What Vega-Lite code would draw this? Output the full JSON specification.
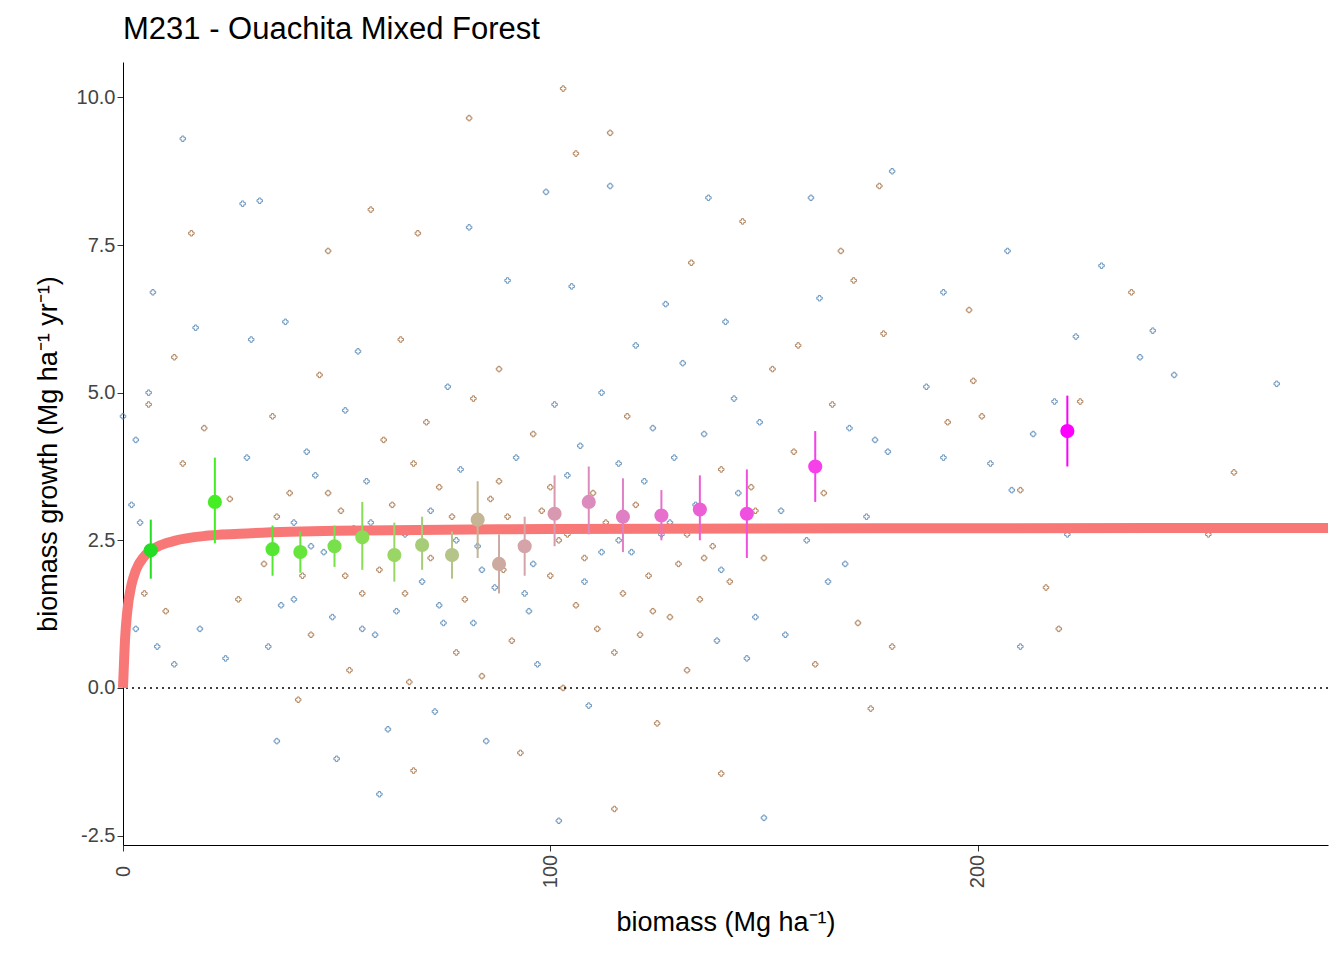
{
"$schema":"https://vega.github.io/schema/vega-lite/v6.json",
"autosize":"none","width":1205,"height":783,
"padding":{"left":123,"top":62,"right":16,"bottom":115},
"background":"white",
"title":{"text":"M231 - Ouachita Mixed Forest","anchor":"start","frame":"group","fontSize":31,"font":"Liberation Sans","fontWeight":"normal","color":"black","offset":16},
"config":{"view":{"stroke":null},"axis":{"grid":false,"domainColor":"black","tickColor":"#333","tickSize":6,"labelFont":"Liberation Sans","titleFont":"Liberation Sans","labelFontSize":20,"titleFontSize":27,"titleFontWeight":"normal","labelColor":"#444","titleColor":"black"}},
"datasets":{
"pts":[
{"x":103,"y":10.15,"g":"b"},{"x":81,"y":9.65,"g":"b"},{"x":14,"y":9.3,"g":"a"},{"x":106,"y":9.05,"g":"b"},{"x":114,"y":9.4,"g":"b"},{"x":180,"y":8.75,"g":"a"},{"x":28,"y":8.2,"g":"a"},{"x":32,"y":8.25,"g":"a"},{"x":229,"y":7.15,"g":"a"},{"x":207,"y":7.4,"g":"a"},{"x":150,"y":-2.2,"g":"a"},{"x":102,"y":-2.25,"g":"a"},{"x":115,"y":-2.05,"g":"b"},{"x":60,"y":-1.8,"g":"a"},{"x":270,"y":5.15,"g":"a"},{"x":260,"y":3.65,"g":"b"},{"x":254,"y":2.6,"g":"b"},{"x":216,"y":1.7,"g":"b"},{"x":219,"y":1.0,"g":"b"},{"x":210,"y":0.7,"g":"a"},{"x":238,"y":5.6,"g":"a"},{"x":241,"y":6.05,"g":"a"},{"x":246,"y":5.3,"g":"a"},{"x":223,"y":5.95,"g":"a"},{"x":236,"y":6.7,"g":"b"},{"x":198,"y":6.4,"g":"b"},{"x":192,"y":6.7,"g":"a"},{"x":175,"y":-0.35,"g":"b"},{"x":140,"y":-1.45,"g":"b"},{"x":36,"y":-0.9,"g":"a"},{"x":68,"y":-1.4,"g":"b"},{"x":0,"y":4.6,"g":"a"},{"x":3,"y":4.2,"g":"a"},
{"x":7,"y":6.7,"g":"a"},{"x":16,"y":7.7,"g":"b"},{"x":17,"y":6.1,"g":"a"},{"x":12,"y":5.6,"g":"b"},{"x":6,"y":5.0,"g":"a"},{"x":6,"y":4.8,"g":"b"},{"x":2,"y":3.1,"g":"a"},{"x":4,"y":2.8,"g":"a"},{"x":5,"y":1.6,"g":"b"},{"x":3,"y":1.0,"g":"a"},{"x":8,"y":0.7,"g":"a"},{"x":10,"y":1.3,"g":"b"},{"x":12,"y":0.4,"g":"a"},{"x":14,"y":3.8,"g":"b"},{"x":18,"y":1.0,"g":"a"},{"x":19,"y":4.4,"g":"b"},{"x":22,"y":2.6,"g":"a"},{"x":25,"y":3.2,"g":"b"},{"x":24,"y":0.5,"g":"a"},{"x":27,"y":1.5,"g":"b"},{"x":29,"y":3.9,"g":"a"},{"x":30,"y":5.9,"g":"a"},{"x":33,"y":2.1,"g":"b"},{"x":34,"y":0.7,"g":"a"},{"x":35,"y":4.6,"g":"b"},{"x":37,"y":1.4,"g":"a"},{"x":38,"y":6.2,"g":"a"},{"x":39,"y":3.3,"g":"b"},{"x":40,"y":2.8,"g":"a"},{"x":41,"y":-0.2,"g":"b"},{"x":42,"y":1.9,"g":"b"},{"x":43,"y":4.0,"g":"a"},{"x":44,"y":0.9,"g":"b"},{"x":45,"y":3.6,"g":"a"},{"x":46,"y":5.3,"g":"b"},{"x":47,"y":2.3,"g":"a"},{"x":48,"y":7.4,"g":"b"},{"x":49,"y":1.2,"g":"a"},{"x":50,"y":-1.2,"g":"a"},{"x":51,"y":3.0,"g":"b"},{"x":52,"y":4.7,"g":"a"},{"x":53,"y":0.3,"g":"b"},{"x":54,"y":2.7,"g":"b"},{"x":55,"y":5.7,"g":"a"},{"x":56,"y":1.6,"g":"b"},{"x":57,"y":3.5,"g":"a"},{"x":58,"y":8.1,"g":"b"},{"x":59,"y":0.9,"g":"a"},{"x":60,"y":2.0,"g":"b"},{"x":61,"y":4.2,"g":"b"},{"x":62,"y":-0.7,"g":"a"},{"x":63,"y":3.1,"g":"b"},{"x":64,"y":1.3,"g":"a"},{"x":65,"y":5.9,"g":"b"},{"x":66,"y":2.6,"g":"a"},{"x":67,"y":0.1,"g":"b"},{"x":68,"y":3.8,"g":"b"},{"x":69,"y":7.7,"g":"b"},{"x":70,"y":1.8,"g":"a"},{"x":71,"y":4.5,"g":"b"},{"x":72,"y":2.2,"g":"b"},{"x":73,"y":-0.4,"g":"a"},{"x":74,"y":3.4,"g":"b"},{"x":75,"y":1.1,"g":"a"},{"x":76,"y":5.1,"g":"a"},{"x":77,"y":2.9,"g":"b"},{"x":78,"y":0.6,"g":"b"},{"x":79,"y":3.7,"g":"a"},{"x":80,"y":1.5,"g":"b"},{"x":81,"y":7.8,"g":"a"},{"x":82,"y":4.9,"g":"b"},{"x":83,"y":2.4,"g":"a"},{"x":84,"y":0.2,"g":"b"},{"x":85,"y":-0.9,"g":"a"},{"x":86,"y":3.2,"g":"b"},{"x":87,"y":1.7,"g":"a"},{"x":88,"y":5.4,"g":"b"},{"x":89,"y":2.0,"g":"b"},{"x":90,"y":6.9,"g":"a"},{"x":91,"y":0.8,"g":"b"},{"x":92,"y":3.9,"g":"a"},{"x":93,"y":-1.1,"g":"b"},{"x":94,"y":2.7,"g":"b"},{"x":95,"y":1.3,"g":"a"},{"x":96,"y":4.3,"g":"b"},{"x":97,"y":0.4,"g":"a"},{"x":98,"y":3.0,"g":"b"},{"x":99,"y":8.4,"g":"a"},{"x":100,"y":1.9,"g":"b"},{"x":101,"y":4.8,"g":"a"},{"x":102,"y":2.5,"g":"b"},{"x":103,"y":0.0,"g":"b"},{"x":104,"y":3.6,"g":"a"},{"x":105,"y":6.8,"g":"a"},{"x":106,"y":1.4,"g":"b"},{"x":107,"y":4.1,"g":"a"},{"x":108,"y":2.2,"g":"b"},{"x":109,"y":-0.3,"g":"a"},{"x":110,"y":3.3,"g":"b"},{"x":111,"y":1.0,"g":"b"},{"x":112,"y":5.0,"g":"a"},{"x":113,"y":2.8,"g":"b"},{"x":114,"y":8.5,"g":"a"},{"x":115,"y":0.6,"g":"b"},{"x":116,"y":3.8,"g":"a"},{"x":117,"y":1.6,"g":"b"},{"x":118,"y":4.6,"g":"b"},{"x":119,"y":2.3,"g":"a"},{"x":120,"y":5.8,"g":"a"},{"x":121,"y":0.9,"g":"b"},{"x":122,"y":3.5,"g":"a"},{"x":123,"y":1.9,"g":"b"},{"x":124,"y":4.4,"g":"a"},{"x":125,"y":-0.6,"g":"b"},{"x":126,"y":2.6,"g":"a"},{"x":127,"y":6.5,"g":"a"},{"x":128,"y":1.2,"g":"b"},{"x":129,"y":3.9,"g":"a"},{"x":130,"y":2.1,"g":"b"},{"x":131,"y":5.5,"g":"a"},{"x":132,"y":0.3,"g":"b"},{"x":133,"y":7.2,"g":"b"},{"x":134,"y":3.1,"g":"a"},{"x":135,"y":1.5,"g":"b"},{"x":136,"y":4.3,"g":"a"},{"x":137,"y":8.3,"g":"a"},{"x":138,"y":2.4,"g":"b"},{"x":139,"y":0.8,"g":"a"},{"x":140,"y":3.7,"g":"b"},{"x":141,"y":6.2,"g":"a"},{"x":142,"y":1.8,"g":"b"},{"x":143,"y":4.9,"g":"a"},{"x":144,"y":2.7,"g":"b"},{"x":145,"y":7.9,"g":"b"},{"x":146,"y":0.5,"g":"a"},{"x":147,"y":3.4,"g":"b"},{"x":148,"y":1.2,"g":"a"},{"x":149,"y":4.5,"g":"a"},{"x":150,"y":2.2,"g":"b"},{"x":152,"y":5.4,"g":"b"},{"x":154,"y":3.0,"g":"a"},{"x":155,"y":0.9,"g":"a"},{"x":157,"y":4.0,"g":"b"},{"x":158,"y":5.8,"g":"b"},{"x":160,"y":2.5,"g":"a"},{"x":161,"y":8.3,"g":"a"},{"x":162,"y":0.4,"g":"b"},{"x":163,"y":6.6,"g":"a"},{"x":164,"y":3.3,"g":"b"},{"x":165,"y":1.8,"g":"a"},{"x":166,"y":4.8,"g":"b"},{"x":168,"y":7.4,"g":"b"},{"x":169,"y":2.1,"g":"a"},{"x":170,"y":4.4,"g":"a"},{"x":171,"y":6.9,"g":"b"},{"x":172,"y":1.1,"g":"b"},{"x":174,"y":2.9,"g":"a"},{"x":176,"y":4.2,"g":"a"},{"x":177,"y":8.5,"g":"b"},{"x":178,"y":6.0,"g":"b"},{"x":179,"y":4.0,"g":"a"},{"x":180,"y":0.7,"g":"b"},{"x":188,"y":5.1,"g":"a"},{"x":192,"y":3.9,"g":"a"},{"x":193,"y":4.5,"g":"b"},{"x":199,"y":5.2,"g":"b"},{"x":201,"y":4.6,"g":"b"},{"x":203,"y":3.8,"g":"a"},{"x":208,"y":3.35,"g":"a"},{"x":210,"y":3.35,"g":"b"},{"x":213,"y":4.3,"g":"a"},{"x":218,"y":4.85,"g":"a"},{"x":224,"y":4.85,"g":"b"},{"x":221,"y":2.6,"g":"a"},
{"x":36,"y":2.9,"g":"b"},{"x":44,"y":2.4,"g":"a"},{"x":52,"y":1.9,"g":"b"},{"x":58,"y":2.8,"g":"a"},{"x":64,"y":2.2,"g":"b"},{"x":72,"y":3.0,"g":"a"},{"x":78,"y":2.5,"g":"a"},{"x":84,"y":2.0,"g":"a"},{"x":90,"y":2.9,"g":"b"},{"x":96,"y":2.1,"g":"a"},{"x":104,"y":2.6,"g":"b"},{"x":112,"y":2.3,"g":"a"},{"x":120,"y":3.1,"g":"b"},{"x":128,"y":2.8,"g":"a"},{"x":136,"y":2.2,"g":"b"},{"x":144,"y":3.3,"g":"a"},{"x":152,"y":2.7,"g":"a"},{"x":40,"y":1.5,"g":"a"},{"x":48,"y":3.3,"g":"b"},{"x":56,"y":1.0,"g":"a"},{"x":66,"y":1.6,"g":"b"},{"x":74,"y":1.4,"g":"a"},{"x":82,"y":1.1,"g":"a"},{"x":88,"y":3.5,"g":"b"},{"x":94,"y":1.6,"g":"a"},{"x":100,"y":3.4,"g":"b"},{"x":108,"y":1.8,"g":"a"},{"x":116,"y":2.5,"g":"a"},{"x":124,"y":1.3,"g":"b"},{"x":132,"y":2.6,"g":"b"},{"x":140,"y":2.0,"g":"a"},{"x":148,"y":3.0,"g":"b"}
],
"bins":[
{"x":6.5,"y":2.33,"lo":1.85,"hi":2.85,"c":"#22dd22"},
{"x":21.5,"y":3.15,"lo":2.45,"hi":3.9,"c":"#44ee22"},
{"x":35,"y":2.35,"lo":1.9,"hi":2.75,"c":"#55e633"},
{"x":41.5,"y":2.3,"lo":1.95,"hi":2.65,"c":"#66e63d"},
{"x":49.5,"y":2.4,"lo":2.05,"hi":2.75,"c":"#77e04a"},
{"x":56,"y":2.55,"lo":2.0,"hi":3.15,"c":"#88dd55"},
{"x":63.5,"y":2.25,"lo":1.8,"hi":2.8,"c":"#99d666"},
{"x":70,"y":2.42,"lo":2.0,"hi":2.9,"c":"#a6cc77"},
{"x":77,"y":2.25,"lo":1.85,"hi":2.65,"c":"#b5c488"},
{"x":83,"y":2.85,"lo":2.2,"hi":3.5,"c":"#c4b594"},
{"x":88,"y":2.1,"lo":1.6,"hi":2.6,"c":"#ccaaa0"},
{"x":94,"y":2.4,"lo":1.9,"hi":2.9,"c":"#d4a4a8"},
{"x":101,"y":2.95,"lo":2.4,"hi":3.6,"c":"#d898b0"},
{"x":109,"y":3.15,"lo":2.6,"hi":3.75,"c":"#dc8cbc"},
{"x":117,"y":2.9,"lo":2.3,"hi":3.55,"c":"#e080c4"},
{"x":126,"y":2.92,"lo":2.5,"hi":3.35,"c":"#e670cc"},
{"x":135,"y":3.02,"lo":2.5,"hi":3.6,"c":"#ec60d6"},
{"x":146,"y":2.95,"lo":2.2,"hi":3.7,"c":"#f050e0"},
{"x":162,"y":3.75,"lo":3.15,"hi":4.35,"c":"#f640ea"},
{"x":221,"y":4.35,"lo":3.75,"hi":4.95,"c":"#ff00ff"}
],
"curve":[
{"x":0,"y":0},{"x":0.5,"y":0.85},{"x":1,"y":1.3},{"x":2,"y":1.75},{"x":3,"y":1.99},{"x":5,"y":2.23},{"x":8,"y":2.39},{"x":12,"y":2.49},{"x":20,"y":2.58},{"x":30,"y":2.62},{"x":50,"y":2.66},{"x":100,"y":2.69},{"x":150,"y":2.7},{"x":200,"y":2.705},{"x":282,"y":2.71}
]
},
"layer":[
{"data":{"name":"pts"},"mark":{"type":"point","shape":"cross","filled":false,"strokeWidth":1,"size":30,"opacity":0.8},
"encoding":{"x":{"field":"x","type":"quantitative","scale":{"domain":[0,282],"nice":false,"zero":false},
"axis":{"values":[0,100,200],"labelAngle":-90,"labelAlign":"center","labelBaseline":"middle","labelPadding":20,"title":"biomass (Mg ha⁻¹)","titlePadding":22}},
"y":{"field":"y","type":"quantitative","scale":{"domain":[-2.66,10.6],"nice":false,"zero":false},
"axis":{"values":[-2.5,0,2.5,5,7.5,10],"labelExpr":"replace(format(datum.value,'.1f'),'−','-')","title":"biomass growth (Mg ha⁻¹ yr⁻¹)","titlePadding":14}},
"color":{"field":"g","type":"nominal","scale":{"domain":["a","b"],"range":["#4a7fb0","#a0693a"]},"legend":null}}},
{"data":{"values":[{"y":0}]},"mark":{"type":"rule","strokeDash":[2,4],"color":"black","strokeWidth":1.5},"encoding":{"y":{"field":"y","type":"quantitative"}}},
{"data":{"name":"curve"},"mark":{"type":"line","color":"#f87878","strokeWidth":10,"interpolate":"monotone"},
"encoding":{"x":{"field":"x","type":"quantitative"},"y":{"field":"y","type":"quantitative"}}},
{"data":{"name":"bins"},"mark":{"type":"rule","strokeWidth":2},
"encoding":{"x":{"field":"x","type":"quantitative"},"y":{"field":"lo","type":"quantitative"},"y2":{"field":"hi"},"color":{"field":"c","type":"nominal","scale":null}}},
{"data":{"name":"bins"},"mark":{"type":"circle","size":200,"opacity":1},
"encoding":{"x":{"field":"x","type":"quantitative"},"y":{"field":"y","type":"quantitative"},"color":{"field":"c","type":"nominal","scale":null}}}
]
}
